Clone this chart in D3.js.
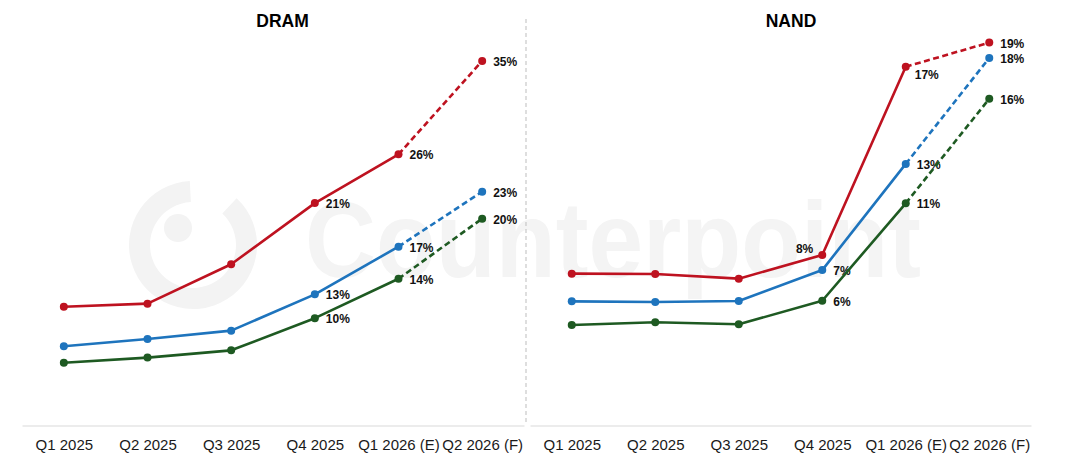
<!DOCTYPE html>
<html>
<head>
<meta charset="utf-8">
<script src="https://cdn.jsdelivr.net/npm/d3@7/dist/d3.min.js"></script>
<style>
  html, body { margin: 0; padding: 0; background: #ffffff; }
  svg { display: block; font-family: "Liberation Sans", Arial, sans-serif; }
</style>
</head>
<body>
<svg id="chart" width="1076" height="458"></svg>
<script>
// ---------- DATA ----------
const categories = ["Q1 2025", "Q2 2025", "Q3 2025", "Q4 2025", "Q1 2026 (E)", "Q2 2026 (F)"];
const panelTitles = ["DRAM", "NAND"];

const dramRed   = [11.4, 11.7, 15.5, 21.4, 26.1, 35.1];
const dramBlue  = [7.6, 8.3, 9.1, 12.6, 17.2, 22.5];
const dramGreen = [6.0, 6.5, 7.2, 10.3, 14.1, 19.9];
const dramRedLabels   = [null, null, null, "21%", "26%", "35%"];
const dramBlueLabels  = [null, null, null, "13%", "17%", "23%"];
const dramGreenLabels = [null, null, null, "10%", "14%", "20%"];

const nandRed   = [7.18, 7.16, 6.93, 8.12, 17.57, 18.78];
const nandBlue  = [5.79, 5.76, 5.81, 7.36, 12.69, 18.01];
const nandGreen = [4.60, 4.74, 4.64, 5.82, 10.71, 15.96];
const nandRedLabels   = [null, null, null, "8%", "17%", "19%"];
const nandBlueLabels  = [null, null, null, "7%", "13%", "18%"];
const nandGreenLabels = [null, null, null, "6%", "11%", "16%"];

const forecastFrom = 4; // segments from this index onward are dashed

// ---------- STYLE ----------
const colors = { red: "#BE1220", blue: "#1E74BD", green: "#1E5A22" };
const svg = d3.select("#chart");

// watermark
const wm = svg.append("g").attr("class", "watermark");
wm.append("path")
  .attr("d", d3.arc()({ innerRadius: 43, outerRadius: 64, startAngle: 0.75, endAngle: 2 * Math.PI - 0.05 }))
  .attr("transform", "translate(193,245)")
  .attr("fill", "#f3f3f3");
wm.append("circle").attr("cx", 178).attr("cy", 228).attr("r", 14).attr("fill", "#f3f3f3");
wm.append("text")
  .attr("x", 305).attr("y", 277)
  .attr("font-size", 108).attr("font-weight", "bold")
  .attr("textLength", 616).attr("lengthAdjust", "spacingAndGlyphs")
  .attr("fill", "#f4f4f4")
  .text("Counterpoint");

// divider
svg.append("line")
  .attr("x1", 526).attr("x2", 526).attr("y1", 19).attr("y2", 425)
  .attr("stroke", "#bdbdbd").attr("stroke-width", 1).attr("stroke-dasharray", "4,3");

const panels = [
  {
    title: panelTitles[0], titleX: 282.5,
    xRange: [22, 524],
    yDomain: [0, 40], yRange: [425, 10.2],
    series: [
      { values: dramRed, labels: dramRedLabels, color: colors.red },
      { values: dramBlue, labels: dramBlueLabels, color: colors.blue },
      { values: dramGreen, labels: dramGreenLabels, color: colors.green }
    ],
    special: {}
  },
  {
    title: panelTitles[1], titleX: 791,
    xRange: [530, 1031],
    yDomain: [0, 20], yRange: [416.7, 18.3],
    series: [
      { values: nandRed, labels: nandRedLabels, color: colors.red },
      { values: nandBlue, labels: nandBlueLabels, color: colors.blue },
      { values: nandGreen, labels: nandGreenLabels, color: colors.green }
    ],
    special: { "0-3": { anchor: "end", dx: -9, dy: -6 }, "0-4": { anchor: "start", dx: 9, dy: 8 } }
  }
];

panels.forEach(p => {
  const x = d3.scalePoint().domain(categories).range(p.xRange).padding(0.5);
  const y = d3.scaleLinear().domain(p.yDomain).range(p.yRange);
  const g = svg.append("g");

  // title
  g.append("text")
    .attr("x", p.titleX).attr("y", 27)
    .attr("text-anchor", "middle")
    .attr("font-size", 17.5).attr("font-weight", "bold")
    .attr("fill", "#000")
    .text(p.title);

  // x axis
  const axis = d3.axisBottom(x).tickSize(0).tickPadding(14);
  const ax = g.append("g").attr("transform", "translate(0,425.5)").call(axis);
  ax.select(".domain").attr("stroke", "#d9d9d9").attr("stroke-width", 1);
  ax.selectAll(".tick text")
    .attr("font-size", 15)
    .attr("font-family", "\"Liberation Sans\", Arial, sans-serif")
    .attr("fill", "#1a1a1a");

  const line = d3.line().x(d => x(d.c)).y(d => y(d.v));

  p.series.forEach((s, si) => {
    const pts = s.values.map((v, i) => ({ c: categories[i], v, label: s.labels[i], i }));
    g.append("path")
      .datum(pts.slice(0, forecastFrom + 1))
      .attr("d", line)
      .attr("fill", "none").attr("stroke", s.color).attr("stroke-width", 2.6)
      .attr("stroke-linejoin", "round");
    g.append("path")
      .datum(pts.slice(forecastFrom))
      .attr("d", line)
      .attr("fill", "none").attr("stroke", s.color).attr("stroke-width", 2.6)
      .attr("stroke-dasharray", "6,3.5");
    g.selectAll(null).data(pts).enter().append("circle")
      .attr("cx", d => x(d.c)).attr("cy", d => y(d.v))
      .attr("r", 4).attr("fill", s.color);
    g.selectAll(null).data(pts.filter(d => d.label)).enter().append("text")
      .each(function(d) {
        const sp = p.special[si + "-" + d.i] || { anchor: "start", dx: 11, dy: 1 };
        d3.select(this)
          .attr("x", x(d.c) + sp.dx)
          .attr("y", y(d.v) + sp.dy)
          .attr("text-anchor", sp.anchor);
      })
      .attr("dominant-baseline", "central")
      .attr("font-size", 12).attr("font-weight", "bold")
      .attr("fill", "#111")
      .text(d => d.label);
  });
});
</script>
</body>
</html>
